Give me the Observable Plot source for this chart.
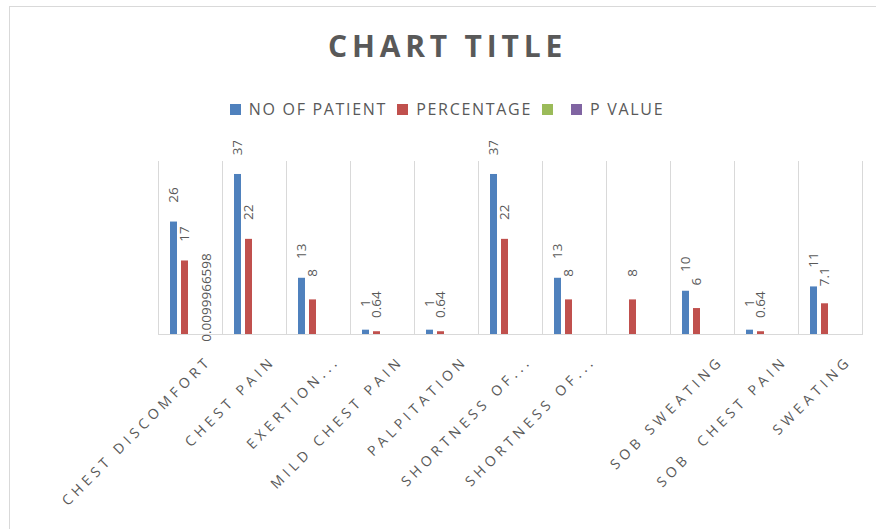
<!DOCTYPE html>
<html>
<head>
<meta charset="utf-8">
<script src="https://cdn.jsdelivr.net/npm/d3@7"></script>
<script src="https://cdn.jsdelivr.net/npm/@observablehq/plot@0.6"></script>
<style>
html, body { margin: 0; padding: 0; background: #fff; }
#wrap { position: absolute; left: 9px; top: 6px; width: 866px; height: 522px;
  border-top: 1px solid #d9d9d9; border-left: 1px solid #d9d9d9; overflow: hidden; background: #fff; }
#title { height: 70px; box-sizing: border-box; padding-top: 24px; padding-left: 9px; text-align: center;
  font: bold 30px/30px "Open Sans", sans-serif; letter-spacing: 4.8px; color: #595959; }
#legend { height: 64px; box-sizing: border-box; padding-left: 18px; display: flex; align-items: center; justify-content: center; }
.lg-swatches { font-family: "Open Sans", sans-serif !important; font-size: 16px !important; color: #595959 !important; letter-spacing: 1.7px; }
.lg-swatches-wrap { min-height: 0 !important; margin: 0 !important; }
.lg-swatch { margin-right: 10px !important; }
.lg-swatch > svg { margin-right: 8px !important; }
#chart svg g[aria-label="fx-axis tick label"] { letter-spacing: 4.4px; }
</style>
</head>
<body>
<div id="wrap">
  <div id="title">CHART TITLE</div>
  <div id="legend"></div>
  <div id="chart"></div>
</div>
<script>
const categories = ["CHEST DISCOMFORT", "CHEST PAIN", "EXERTION...", "MILD CHEST PAIN", "PALPITATION",
  "SHORTNESS OF...", "SHORTNESS OF...", "", "SOB SWEATING", "SOB  CHEST PAIN", "SWEATING"];
const series = ["NO OF PATIENT", "PERCENTAGE", "", "P VALUE"];
const colors = ["#4F81BD", "#C0504D", "#9BBB59", "#8064A2"];
const noOfPatient = [26, 37, 13, 1, 1, 37, 13, null, 10, 1, 11];
const percentage = [17, 22, 8, 0.64, 0.64, 22, 8, 8, 6, 0.64, 7.1];
const blankSeries = [null, null, null, null, null, null, null, null, null, null, null];
const pValue = [0.0099966598, null, null, null, null, null, null, null, null, null, null];
const seriesValues = [noOfPatient, percentage, blankSeries, pValue];

const rows = [];
categories.forEach((c, i) => {
  seriesValues.forEach((vals, s) => {
    if (vals[i] != null) rows.push({cat: i, series: series[s], value: vals[i]});
  });
});

const legend = Plot.legend({
  color: {type: "ordinal", domain: series, range: colors},
  legend: "swatches", swatchSize: 11, className: "lg"
});
document.getElementById("legend").appendChild(legend);

const chart = Plot.plot({
  width: 866, height: 388,
  marginTop: 20, marginBottom: 195, marginLeft: 148, marginRight: 14,
  style: {fontFamily: "'Open Sans', sans-serif", background: "transparent"},
  fx: {domain: d3.range(categories.length), padding: 0, axis: null, label: null},
  x: {domain: series, paddingInner: 0.364, paddingOuter: 1.09, axis: null},
  y: {domain: [0, 40], axis: null},
  color: {domain: series, range: colors},
  marks: [
    Plot.frame({anchor: "left", stroke: "#d9d9d9"}),
    Plot.frame({anchor: "right", stroke: "#d9d9d9"}),
    Plot.ruleY([0], {stroke: "#d9d9d9"}),
    Plot.barY(rows, {fx: "cat", x: "series", y: "value", fill: "series"}),
    Plot.text(rows.filter(d => d.series !== "P VALUE"), {
      fx: "cat", x: "series", y: "value", text: d => String(d.value),
      rotate: -90, textAnchor: "middle", dy: -27, fill: "#595959", fontSize: 13.5
    }),
    Plot.text(rows.filter(d => d.series === "P VALUE"), {
      fx: "cat", x: "series", y: "value", text: d => String(d.value),
      rotate: -90, textAnchor: "middle", dy: -37, fill: "#595959", fontSize: 13.5
    }),
    Plot.axisFx({
      anchor: "bottom", tickRotate: -45, tickSize: 0, tickPadding: 24, dx: 19,
      textAnchor: "end", lineAnchor: "middle", label: null,
      tickFormat: i => categories[i], fontSize: 14, fill: "#595959"
    })
  ]
});
document.getElementById("chart").appendChild(chart);
</script>
</body>
</html>
